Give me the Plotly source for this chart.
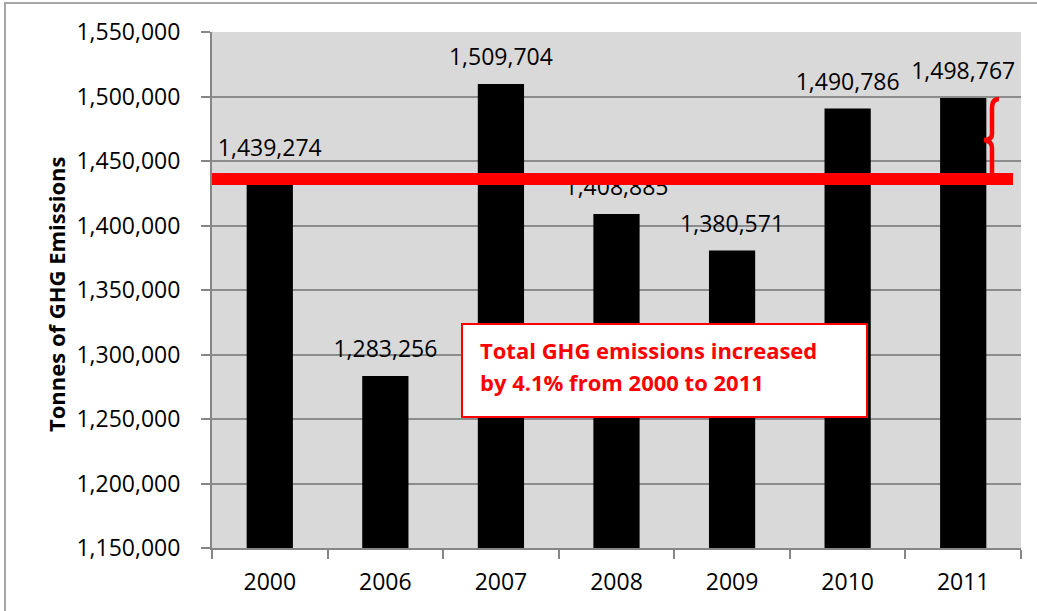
import plotly.graph_objects as go

years = ["2000", "2006", "2007", "2008", "2009", "2010", "2011"]
emissions = [1439274, 1283256, 1509704, 1408885, 1380571, 1490786, 1498767]
baseline_value = 1436000
y_ticks = [1150000, 1200000, 1250000, 1300000, 1350000, 1400000, 1450000, 1500000, 1550000]
y_range = [1150000, 1550000]
note_lines = ["Total GHG emissions increased", "by 4.1% from 2000 to 2011"]
y_title = "Tonnes of GHG Emissions"

W, H = 1037, 611
L, R, T, B = 212, 1021, 32, 548  # plot area in px

def px_x(px):
    return (px - L) / (R - L)

def px_y_paper(py):
    return (B - py) / (B - T)

def px_y_data(py):
    return y_range[0] + (B - py) / (B - T) * (y_range[1] - y_range[0])

FONT = "Open Sans"
RED = "#ff0000"
FS = 23

fig = go.Figure()
fig.add_trace(go.Bar(
    x=years, y=emissions, marker=dict(color="black", line=dict(width=0)),
    width=0.4, hoverinfo="skip",
))
fig.add_trace(go.Scatter(
    x=years, y=emissions, mode="markers+text",
    text=[f"{v:,}" for v in emissions], textposition="top center",
    marker=dict(size=19, color="rgba(0,0,0,0)"),
    textfont=dict(family=FONT, size=FS, color="black"),
    cliponaxis=False, hoverinfo="skip",
))

shapes = []
# outer chart border
shapes.append(dict(type="rect", xref="paper", yref="paper",
                   x0=px_x(5), x1=px_x(1060), y0=px_y_paper(640), y1=px_y_paper(3),
                   line=dict(color="#a6a6a6", width=2), fillcolor="rgba(0,0,0,0)", layer="below"))
# red baseline line
shapes.append(dict(type="line", xref="paper", yref="y",
                   x0=0, x1=px_x(1013), y0=baseline_value, y1=baseline_value,
                   line=dict(color=RED, width=12), layer="above"))
# curly brace
pts = [(999, 99), (992, 99), (992, 108), (992, 134), (992, 140), (984, 140),
       (992, 141), (992, 148), (992, 178)]
p = [(px_x(a), px_y_data(b)) for a, b in pts]
path = (f"M {p[0][0]},{p[0][1]} Q {p[1][0]},{p[1][1]} {p[2][0]},{p[2][1]} "
        f"L {p[3][0]},{p[3][1]} Q {p[4][0]},{p[4][1]} {p[5][0]},{p[5][1]} "
        f"Q {p[6][0]},{p[6][1]} {p[7][0]},{p[7][1]} L {p[8][0]},{p[8][1]}")
shapes.append(dict(type="path", xref="paper", yref="y", path=path,
                   line=dict(color=RED, width=4.5), layer="above"))
# note box
shapes.append(dict(type="rect", xref="paper", yref="paper",
                   x0=px_x(462), x1=px_x(867), y0=px_y_paper(417), y1=px_y_paper(324),
                   line=dict(color=RED, width=2), fillcolor="white", layer="above"))

annotations = []
for i, line in enumerate(note_lines):
    annotations.append(dict(
        xref="paper", yref="paper", x=px_x(478), y=px_y_paper(350 + 32 * i),
        xanchor="left", yanchor="middle", align="left", showarrow=False,
        text=f"<b>{line}</b>", font=dict(family=FONT, size=22, color=RED)))
annotations.append(dict(
    xref="paper", yref="paper", x=px_x(56), y=px_y_paper(295),
    xanchor="center", yanchor="middle", textangle=-90, showarrow=False,
    text=f"<b>{y_title}</b>", font=dict(family=FONT, size=22, color="black")))

fig.update_layout(
    width=W, height=H,
    margin=dict(l=L, r=W - R, t=T, b=H - B, pad=0),
    paper_bgcolor="white", plot_bgcolor="#d9d9d9",
    showlegend=False,
    shapes=shapes, annotations=annotations,
    xaxis=dict(
        type="category", tickson="boundaries", ticks="outside", ticklen=9,
        tickcolor="#868686", tickwidth=2, showline=True, linecolor="#868686",
        linewidth=2, showgrid=False, ticklabelstandoff=12,
        tickfont=dict(family=FONT, size=FS, color="black"),
        range=[-0.5, 6.5],
    ),
    yaxis=dict(
        range=y_range, tickvals=y_ticks, ticktext=[f"{v:,}" for v in y_ticks],
        ticks="outside", ticklen=9, tickcolor="#868686", tickwidth=2,
        showline=True, linecolor="#868686", linewidth=2,
        showgrid=True, gridcolor="#8c8c8c", gridwidth=1.5,
        ticklabelstandoff=16, zeroline=False,
        tickfont=dict(family=FONT, size=FS, color="black"),
    ),
)

fig.write_html("out.html")
